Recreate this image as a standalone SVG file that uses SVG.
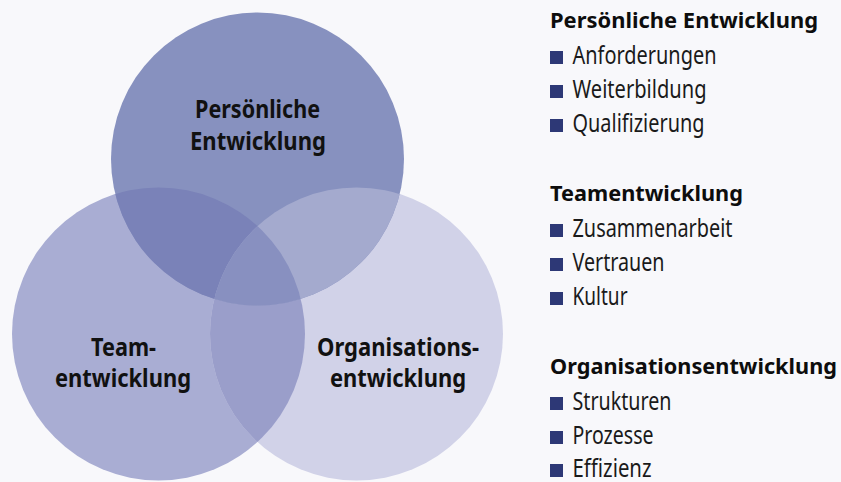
<svg xmlns="http://www.w3.org/2000/svg" width="841" height="482" viewBox="0 0 841 482">
<style>
.lbl{font-family:"Noto Sans","Open Sans","DejaVu Sans",sans-serif;font-weight:700;font-size:25.5px;fill:#111111}
.hd{font-family:"Noto Sans","Open Sans","DejaVu Sans",sans-serif;font-weight:700;font-size:22px;fill:#0d0d0d}
.it{font-family:"Noto Sans","Open Sans","DejaVu Sans",sans-serif;font-weight:400;font-size:24.5px;fill:#1a1a1a}
.bul{fill:#2d3876}
</style>
<defs>
<clipPath id="cTop"><circle cx="257.5" cy="159" r="146.5"/></clipPath>
<clipPath id="cLeft"><circle cx="158.5" cy="334" r="146.5"/></clipPath>
<clipPath id="cRight"><circle cx="356.5" cy="334" r="146.5"/></clipPath>
</defs>
<rect width="841" height="482" fill="#f8f8fb"/>
<g id="connectors"></g>
<g id="node-team">
<circle cx="158.5" cy="334" r="146.5" fill="#a9add3"/>
</g>
<g id="node-organisation">
<circle cx="356.5" cy="334" r="146.5" fill="#d1d2e8"/>
</g>
<g id="node-persoenlich">
<circle cx="257.5" cy="159" r="146.5" fill="#8791bf"/>
</g>
<g id="overlaps">
<circle cx="356.5" cy="334" r="146.5" fill="#9a9eca" clip-path="url(#cLeft)"/>
<circle cx="158.5" cy="334" r="146.5" fill="#7a82b8" clip-path="url(#cTop)"/>
<circle cx="356.5" cy="334" r="146.5" fill="#a4aace" clip-path="url(#cTop)"/>
<g clip-path="url(#cTop)"><circle cx="356.5" cy="334" r="146.5" fill="#8890c0" clip-path="url(#cLeft)"/></g>
</g>
<g id="labels">
<text class="lbl" x="195" y="118" textLength="125" lengthAdjust="spacingAndGlyphs">Persönliche</text>
<text class="lbl" x="190" y="150" textLength="136" lengthAdjust="spacingAndGlyphs">Entwicklung</text>
<text class="lbl" x="91" y="356" textLength="65" lengthAdjust="spacingAndGlyphs">Team-</text>
<text class="lbl" x="55" y="387" textLength="136" lengthAdjust="spacingAndGlyphs">entwicklung</text>
<text class="lbl" x="317" y="356" textLength="162" lengthAdjust="spacingAndGlyphs">Organisations-</text>
<text class="lbl" x="330" y="387" textLength="136" lengthAdjust="spacingAndGlyphs">entwicklung</text>
</g>
<g id="legend-persoenlich">
<text class="hd" x="550" y="28" textLength="268" lengthAdjust="spacingAndGlyphs">Persönliche Entwicklung</text>
<rect class="bul" x="550" y="51" width="13" height="13"/>
<text class="it" x="572.5" y="64" textLength="144" lengthAdjust="spacingAndGlyphs">Anforderungen</text>
<rect class="bul" x="550" y="85" width="13" height="13"/>
<text class="it" x="572.5" y="98" textLength="134" lengthAdjust="spacingAndGlyphs">Weiterbildung</text>
<rect class="bul" x="550" y="119" width="13" height="13"/>
<text class="it" x="572.5" y="132" textLength="132" lengthAdjust="spacingAndGlyphs">Qualifizierung</text>
</g>
<g id="legend-team">
<text class="hd" x="550" y="201" textLength="193" lengthAdjust="spacingAndGlyphs">Teamentwicklung</text>
<rect class="bul" x="550" y="224" width="13" height="13"/>
<text class="it" x="572.5" y="237" textLength="160" lengthAdjust="spacingAndGlyphs">Zusammenarbeit</text>
<rect class="bul" x="550" y="258" width="13" height="13"/>
<text class="it" x="572.5" y="271" textLength="92" lengthAdjust="spacingAndGlyphs">Vertrauen</text>
<rect class="bul" x="550" y="292" width="13" height="13"/>
<text class="it" x="572.5" y="305" textLength="55" lengthAdjust="spacingAndGlyphs">Kultur</text>
</g>
<g id="legend-organisation">
<text class="hd" x="550" y="374" textLength="287" lengthAdjust="spacingAndGlyphs">Organisationsentwicklung</text>
<rect class="bul" x="550" y="397" width="13" height="13"/>
<text class="it" x="572.5" y="410" textLength="99" lengthAdjust="spacingAndGlyphs">Strukturen</text>
<rect class="bul" x="550" y="431" width="13" height="13"/>
<text class="it" x="572.5" y="444" textLength="81" lengthAdjust="spacingAndGlyphs">Prozesse</text>
<rect class="bul" x="550" y="464" width="13" height="13"/>
<text class="it" x="572.5" y="477" textLength="79" lengthAdjust="spacingAndGlyphs">Effizienz</text>
</g>
</svg>
